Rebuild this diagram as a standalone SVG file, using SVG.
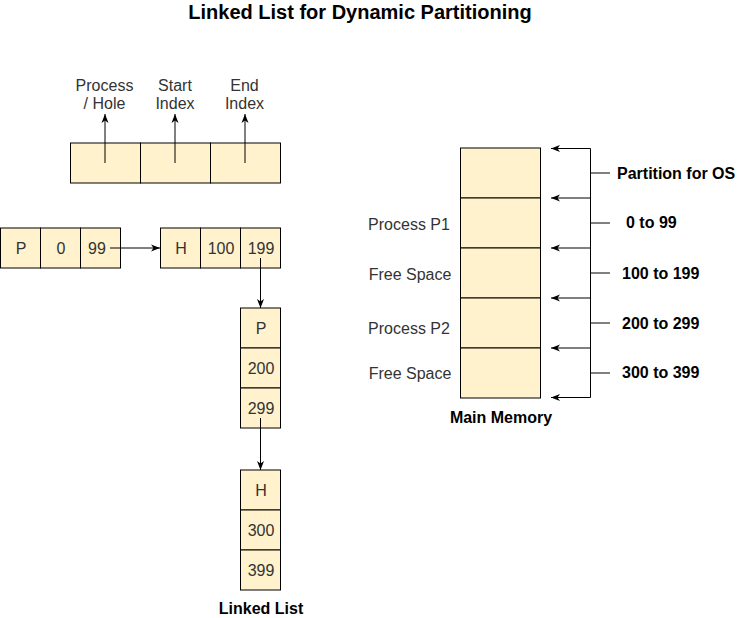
<svg xmlns="http://www.w3.org/2000/svg" width="741" height="618" viewBox="0 0 741 618">
<style>
.cell{fill:#fff2cc;stroke:#000;stroke-width:1}
.t{font-family:"Liberation Sans",Arial,sans-serif;font-size:16px;fill:#333}
.c{text-anchor:middle}
.b{font-weight:bold;fill:#000}
.ln{fill:none;stroke:#000;stroke-width:1}
.lg{fill:none;stroke:#555;stroke-width:1}
</style>
<defs>
<marker id="ah" markerUnits="userSpaceOnUse" markerWidth="10" markerHeight="8" refX="9" refY="4" orient="auto">
<path d="M0,0.5 L9,4 L0,7.5 L2.5,4 Z" fill="#000"/>
</marker>
</defs>
<rect width="741" height="618" fill="#fff"/>
<text id="title" class="t c b" x="360" y="19" style="font-size:20px">Linked List for Dynamic Partitioning</text>

<g id="header">
<rect class="cell" x="70.5" y="143" width="70" height="40"/>
<rect class="cell" x="140.5" y="143" width="70" height="40"/>
<rect class="cell" x="210.5" y="143" width="70" height="40"/>
<text class="t c" x="104.5" y="90.5">Process</text>
<text class="t c" x="104.5" y="109">/ Hole</text>
<text class="t c" x="175" y="90.5">Start</text>
<text class="t c" x="175" y="109">Index</text>
<text class="t c" x="244.5" y="90.5">End</text>
<text class="t c" x="244.5" y="109">Index</text>
</g>

<g id="node1">
<rect class="cell" x="0.5" y="228" width="40" height="40"/>
<rect class="cell" x="40.5" y="228" width="40" height="40"/>
<rect class="cell" x="80.5" y="228" width="40" height="40"/>
<text class="t c" x="21" y="253.5">P</text>
<text class="t c" x="61" y="253.5">0</text>
<text class="t c" x="97" y="253.5">99</text>
</g>

<g id="node2">
<rect class="cell" x="160.5" y="228" width="40" height="40"/>
<rect class="cell" x="200.5" y="228" width="40" height="40"/>
<rect class="cell" x="240.5" y="228" width="40" height="40"/>
<text class="t c" x="181" y="253.5">H</text>
<text class="t c" x="221" y="253.5">100</text>
<text class="t c" x="261" y="253.5">199</text>
</g>

<g id="node3">
<rect class="cell" x="240.5" y="308" width="40" height="40"/>
<rect class="cell" x="240.5" y="348" width="40" height="40"/>
<rect class="cell" x="240.5" y="388" width="40" height="40"/>
<text class="t c" x="261" y="333.5">P</text>
<text class="t c" x="261" y="373.5">200</text>
<text class="t c" x="261" y="413.5">299</text>
</g>

<g id="node4">
<rect class="cell" x="240.5" y="470" width="40" height="40"/>
<rect class="cell" x="240.5" y="510" width="40" height="40"/>
<rect class="cell" x="240.5" y="550" width="40" height="40"/>
<text class="t c" x="261" y="495.5">H</text>
<text class="t c" x="261" y="535.5">300</text>
<text class="t c" x="261" y="575.5">399</text>
</g>
<text id="ll-label" class="t c b" x="261" y="614">Linked List</text>

<g id="memory">
<rect class="cell" x="460.5" y="148" width="80" height="50"/>
<rect class="cell" x="460.5" y="198" width="80" height="50"/>
<rect class="cell" x="460.5" y="248" width="80" height="50"/>
<rect class="cell" x="460.5" y="298" width="80" height="50"/>
<rect class="cell" x="460.5" y="348" width="80" height="50"/>
<text class="t c" x="409" y="229.5">Process P1</text>
<text class="t c" x="410" y="279.5">Free Space</text>
<text class="t c" x="409" y="334">Process P2</text>
<text class="t c" x="410" y="379">Free Space</text>
<text class="t c b" x="501" y="423">Main Memory</text>
</g>

<g id="ranges">
<text class="t b" x="617" y="178.5">Partition for OS</text>
<text class="t b" x="626" y="228">0 to 99</text>
<text class="t b" x="622" y="278.5">100 to 199</text>
<text class="t b" x="622" y="328.5">200 to 299</text>
<text class="t b" x="622" y="378">300 to 399</text>
</g>

<g id="connectors">
<line class="ln" x1="105" y1="163" x2="105" y2="114" marker-end="url(#ah)"/>
<line class="ln" x1="175" y1="163" x2="175" y2="114" marker-end="url(#ah)"/>
<line class="ln" x1="245" y1="163" x2="245" y2="114" marker-end="url(#ah)"/>
<line class="ln" x1="110" y1="248" x2="160" y2="248" marker-end="url(#ah)"/>
<line class="ln" x1="260.5" y1="258" x2="260.5" y2="308" marker-end="url(#ah)"/>
<line class="ln" x1="260.5" y1="418" x2="260.5" y2="470" marker-end="url(#ah)"/>
<polyline class="ln" points="590.5,148.5 590.5,397.5"/>
<line class="ln" x1="590.5" y1="148.5" x2="551" y2="148.5" marker-end="url(#ah)"/>
<line class="ln" x1="590.5" y1="198" x2="551" y2="198" marker-end="url(#ah)"/>
<line class="ln" x1="590.5" y1="248" x2="551" y2="248" marker-end="url(#ah)"/>
<line class="ln" x1="590.5" y1="298" x2="551" y2="298" marker-end="url(#ah)"/>
<line class="ln" x1="590.5" y1="348" x2="551" y2="348" marker-end="url(#ah)"/>
<line class="ln" x1="590.5" y1="397.5" x2="551" y2="397.5" marker-end="url(#ah)"/>
<line class="ln" x1="590.5" y1="173" x2="610" y2="173"/>
<line class="ln" x1="590.5" y1="223" x2="610" y2="223"/>
<line class="ln" x1="590.5" y1="273" x2="610" y2="273"/>
<line class="ln" x1="590.5" y1="323" x2="610" y2="323"/>
<line class="ln" x1="590.5" y1="373" x2="610" y2="373"/>
</g>
</svg>
